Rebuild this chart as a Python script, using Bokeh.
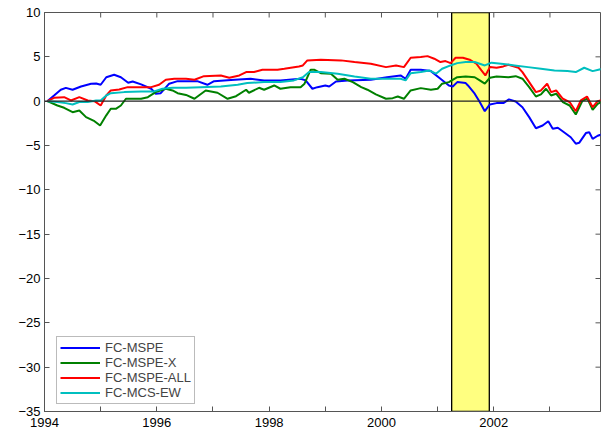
from bokeh.plotting import figure
from bokeh.models import FixedTicker, Legend, LegendItem, Span, Range1d
from bokeh.embed import file_html
from bokeh.resources import INLINE

# ---- data ----
blue_x = [1994.05, 1994.17, 1994.29, 1994.38, 1994.5, 1994.65, 1994.83, 1994.92, 1995.0, 1995.1,
          1995.24, 1995.36, 1995.49, 1995.57, 1995.72, 1995.9, 1995.98, 1996.07, 1996.22, 1996.37,
          1996.52, 1996.72, 1996.9, 1997.02, 1997.32, 1997.67, 1997.91, 1998.2, 1998.56, 1998.65,
          1998.77, 1998.86, 1999.0, 1999.07, 1999.19, 1999.4, 1999.81, 2000.1, 2000.34, 2000.43,
          2000.52, 2000.7, 2000.88, 2001.05, 2001.2, 2001.27, 2001.35, 2001.5, 2001.54, 2001.66,
          2001.75, 2001.84, 2001.93, 2002.05, 2002.17, 2002.27, 2002.39, 2002.51, 2002.63, 2002.75,
          2002.87, 2002.97, 2003.05, 2003.14, 2003.25, 2003.37, 2003.46, 2003.52, 2003.64, 2003.7,
          2003.76, 2003.85, 2003.94]
blue_y = [0.0, 0.64, 1.29, 1.5, 1.29, 1.66, 1.96, 2.0, 1.85, 2.7,
          2.98, 2.7, 2.08, 2.22, 1.89, 1.4, 0.84, 0.9, 1.97, 2.26,
          2.26, 2.26, 1.85, 2.26, 2.4, 2.53, 2.34, 2.34, 2.53, 2.34,
          1.4, 1.58, 1.77, 1.66, 2.22, 2.34, 2.42, 2.7, 2.9, 2.53,
          3.55, 3.55, 3.39, 2.53, 1.77, 1.66, 2.15, 2.04, 1.77, 0.84,
          -0.1, -1.13, -0.37, -0.22, -0.22, 0.2, -0.03, -0.68, -1.8, -3.05,
          -2.75, -2.26, -3.12, -3.0, -3.5, -4.07, -4.8, -4.7, -3.6, -3.5,
          -4.25, -3.9, -3.7]

green_x = [1994.05, 1994.23, 1994.35, 1994.5, 1994.62, 1994.74, 1994.89, 1994.99, 1995.1, 1995.18,
           1995.27, 1995.36, 1995.45, 1995.54, 1995.72, 1995.84, 1995.98, 1996.16, 1996.28, 1996.37,
           1996.52, 1996.67, 1996.87, 1997.08, 1997.26, 1997.41, 1997.59, 1997.64, 1997.82, 1997.91,
           1998.09, 1998.2, 1998.38, 1998.56, 1998.63, 1998.74, 1998.8, 1998.92, 1999.1, 1999.22,
           1999.34, 1999.49, 1999.64, 1999.75, 1999.9, 2000.08, 2000.2, 2000.29, 2000.4, 2000.52,
           2000.7, 2000.88, 2001.0, 2001.08, 2001.2, 2001.35, 2001.5, 2001.66, 2001.75, 2001.84,
           2001.93, 2002.05, 2002.26, 2002.39, 2002.51, 2002.63, 2002.75, 2002.84, 2002.93, 2003.02,
           2003.11, 2003.23, 2003.35, 2003.46, 2003.58, 2003.67, 2003.76, 2003.85, 2003.94]
green_y = [0.0, -0.49, -0.75, -1.24, -1.05, -1.8, -2.26, -2.75, -1.6, -0.86,
           -0.86, -0.49, 0.27, 0.27, 0.27, 0.45, 1.02, 1.4, 1.21, 0.9,
           0.7, 0.27, 1.21, 0.95, 0.27, 0.56, 1.29, 0.95, 1.51, 1.29,
           1.77, 1.4, 1.58, 1.58, 1.97, 3.55, 3.55, 3.16, 3.1, 2.42,
           2.53, 2.15, 1.58, 1.29, 0.76, 0.27, 0.34, 0.53, 0.27, 1.21,
           1.47, 1.29, 1.4, 1.97, 2.15, 2.7, 2.79, 2.7, 2.34, 1.97,
           2.64, 2.79, 2.7, 2.82, 2.53, 1.58, 0.53, 0.76, 1.4, 0.64,
           0.84, -0.1, -0.49, -1.5, 0.08, 0.27, -0.97, -0.3, 0.0]

red_x = [1994.05, 1994.17, 1994.35, 1994.47, 1994.62, 1994.77, 1994.89, 1995.0, 1995.1, 1995.18,
         1995.33, 1995.48, 1995.66, 1995.9, 1996.04, 1996.16, 1996.31, 1996.52, 1996.67, 1996.84,
         1997.14, 1997.29, 1997.47, 1997.59, 1997.73, 1997.88, 1998.15, 1998.27, 1998.53, 1998.6,
         1998.68, 1998.92, 1999.28, 1999.52, 1999.81, 2000.08, 2000.26, 2000.4, 2000.52, 2000.7,
         2000.82, 2000.94, 2001.05, 2001.14, 2001.23, 2001.32, 2001.45, 2001.57, 2001.69, 2001.78,
         2001.85, 2001.93, 2002.05, 2002.17, 2002.26, 2002.44, 2002.51, 2002.63, 2002.75, 2002.84,
         2002.95, 2003.02, 2003.11, 2003.23, 2003.35, 2003.46, 2003.55, 2003.66, 2003.76, 2003.85,
         2003.94]
red_y = [0.0, 0.38, 0.45, 0.08, 0.45, 0.08, 0.0, -0.49, 0.64, 1.21,
         1.32, 1.58, 1.58, 1.58, 1.85, 2.42, 2.53, 2.53, 2.42, 2.82,
         2.9, 2.64, 2.9, 3.28, 3.28, 3.55, 3.55, 3.66, 3.92, 4.03,
         4.6, 4.68, 4.6, 4.41, 4.22, 3.84, 4.03, 3.84, 4.9, 4.97,
         5.08, 4.79, 4.41, 4.52, 4.29, 4.9, 4.9, 4.68, 4.22, 3.47,
         2.9, 3.84, 3.77, 3.92, 4.11, 3.77, 3.28, 2.15, 1.02, 1.21,
         1.97, 1.02, 1.21, 0.27, -0.1, -1.13, 0.08, 0.53, -0.68, 0.0,
         0.16]

cyan_x = [1994.05, 1994.23, 1994.38, 1994.5, 1994.62, 1994.77, 1994.92, 1995.0, 1995.1, 1995.18,
          1995.42, 1995.72, 1995.95, 1996.1, 1996.28, 1996.52, 1996.78, 1997.14, 1997.44, 1997.61,
          1997.91, 1998.2, 1998.44, 1998.6, 1998.71, 1998.92, 1999.22, 1999.52, 1999.81, 2000.1,
          2000.34, 2000.43, 2000.52, 2000.7, 2000.85, 2000.97, 2001.08, 2001.23, 2001.35, 2001.5,
          2001.66, 2001.84, 2001.96, 2002.13, 2002.37, 2002.61, 2002.84, 2003.08, 2003.31, 2003.46,
          2003.61, 2003.76, 2003.94]
cyan_y = [0.0, -0.1, -0.22, -0.37, -0.1, -0.1, 0.08, 0.08, 0.64, 0.9,
          1.02, 1.1, 1.1, 1.4, 1.51, 1.51, 1.58, 1.66, 1.85, 2.04,
          2.15, 2.15, 2.34, 2.7, 3.28, 3.28, 3.1, 2.79, 2.53, 2.53,
          2.53, 2.34, 3.16, 3.28, 3.47, 3.1, 3.66, 4.03, 4.29, 4.41,
          4.41, 4.03, 4.34, 4.22, 4.03, 3.84, 3.66, 3.47, 3.39, 3.28,
          3.77, 3.39, 3.66]

series_names = ["FC-MSPE", "FC-MSPE-X", "FC-MSPE-ALL", "FC-MCS-EW"]
series_colors = ["#0000FF", "#008000", "#FF0000", "#00BFBF"]

recession = [2001.25, 2001.92]
x_range = [1994, 2003.9]
y_range = [-35, 10]
x_ticks = list(range(1994, 2004))
x_tick_labels = {t: (str(t) if t % 2 == 0 else "") for t in x_ticks}
y_ticks = list(range(-35, 11, 5))

FONT = "Liberation Sans"
AX_COLOR = "#555555"

p = figure(width=601, height=432, output_backend="svg", toolbar_location=None,
           x_range=Range1d(*x_range), y_range=Range1d(*y_range),
           min_border_left=44, min_border_right=1, min_border_top=12, min_border_bottom=21)
p.grid.visible = False
p.outline_line_color = AX_COLOR
p.background_fill_color = "white"

# recession band
p.quad(left=[recession[0]], right=[recession[1]], bottom=[y_range[0]], top=[y_range[1]],
       fill_color="#FFFF80", line_color="black", line_width=1.3)

# zero line
p.add_layout(Span(location=0, dimension="width", line_color="#222222", line_width=1.2))

renderers = []
for xs, ys, c in zip([blue_x, green_x, red_x, cyan_x], [blue_y, green_y, red_y, cyan_y], series_colors):
    r = p.line(xs, ys, line_color=c, line_width=2)
    renderers.append(r)

# inward ticks on the top and right edges (matlab box style)
tick_len_x = 5.0 / 398.0 * (y_range[1] - y_range[0])
tick_len_y = 5.0 / 556.0 * (x_range[1] - x_range[0])
p.segment(x0=x_ticks, x1=x_ticks, y0=[y_range[1]] * len(x_ticks),
          y1=[y_range[1] - tick_len_x] * len(x_ticks), line_color=AX_COLOR, line_width=1)
p.segment(x0=[x_range[1]] * len(y_ticks), x1=[x_range[1] - tick_len_y] * len(y_ticks),
          y0=y_ticks, y1=y_ticks, line_color=AX_COLOR, line_width=1)

for ax in [p.xaxis[0], p.yaxis[0]]:
    ax.axis_line_color = AX_COLOR
    ax.major_tick_line_color = AX_COLOR
    ax.major_tick_in = 5
    ax.major_tick_out = 0
    ax.minor_tick_line_color = None
    ax.major_label_text_font = FONT
    ax.major_label_text_font_size = "13px"
    ax.major_label_text_color = "black"

p.xaxis[0].major_label_standoff = 6
p.yaxis[0].major_label_standoff = 4
p.xaxis[0].ticker = FixedTicker(ticks=x_ticks)
p.xaxis[0].major_label_overrides = x_tick_labels
p.yaxis[0].ticker = FixedTicker(ticks=y_ticks)

legend = Legend(items=[LegendItem(label=n, renderers=[r]) for n, r in zip(series_names, renderers)],
                location=(12, 7), margin=0, padding=3, spacing=0,
                glyph_width=40, glyph_height=15, label_height=15, label_standoff=5,
                label_text_font=FONT, label_text_font_size="13px", label_text_line_height=1.0,
                border_line_color="#777777", border_line_width=1,
                background_fill_alpha=1.0)
p.add_layout(legend, "center")

open("out.html", "w").write(file_html(p, INLINE))
